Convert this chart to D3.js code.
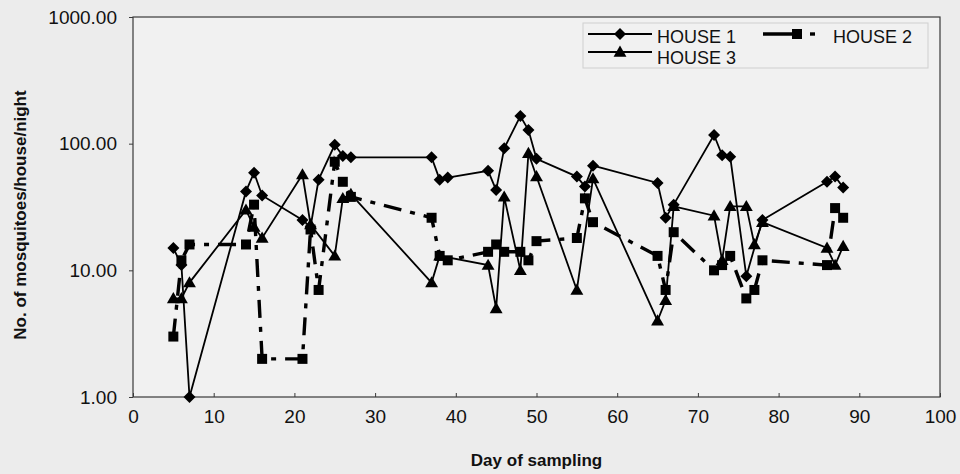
<!DOCTYPE html>
<html><head><meta charset="utf-8">
<script src="https://cdn.jsdelivr.net/npm/d3@7"></script>
<style>
body{margin:0;background:#ececec;}
svg{display:block;font-family:"Liberation Sans",Arial,sans-serif;}
</style>
</head><body><svg id="c" width="960" height="474"></svg>
<script>
// ---- data ----
const days1 = [5,6,7,14,15,16,21,22,23,25,26,27,37,38,39,44,45,46,48,49,50,55,56,57,65,66,67,72,73,74,76,78,86,87,88];
const house1 = [15,11,1,42,59,39,25,22,52,98,80,78,78,52,54,61,43,92,165,128,76,55,46,67,49,26,33,117,81,79,9,25,50,55,45];

const days2 = [5,6,7,14,15,16,21,22,23,25,26,27,37,38,39,44,45,46,48,49,50,55,56,57,65,66,67,72,73,74,76,77,78,86,87,88];
const house2 = [3,12,16,16,33,2,2,21,7,72,50,38,26,13,12,14,16,14,14,12,17,18,37,24,13,7,20,10,11,13,6,7,12,11,31,26];

const days3 = [5,6,7,14,15,16,21,22,25,26,27,37,38,44,45,46,48,49,50,55,57,65,66,67,72,73,74,76,77,78,86,87,88];
const house3 = [6,6,8,30,22,18,57,23,13,37,40,8,13,11,5,38,10,84,55,7,53,4,5.8,32,27,12,32,32,16,24,15,11,15.5];

const xTicks = [0,10,20,30,40,50,60,70,80,90,100];
const yTicks = [1,10,100,1000];
const seriesNames = ["HOUSE 1","HOUSE 2","HOUSE 3"];
const xTitle = "Day of sampling";
const yTitle = "No. of mosquitoes/house/night";

// ---- drawing ----
const svg = d3.select('#c');
const x = d3.scaleLinear().domain([0,100]).range([133,940]);
const y = d3.scaleLog().domain([1,1000]).range([397,17]);

svg.append('rect')
  .attr('x', x(0)).attr('y', y(1000))
  .attr('width', x(100)-x(0)).attr('height', y(1)-y(1000))
  .attr('fill','#f1f1f1').attr('stroke','#3a3a3a').attr('stroke-width',1.2);

const gx = svg.append('g').attr('transform',`translate(0,${y(1)})`)
  .call(d3.axisBottom(x).tickValues(xTicks).tickSize(-4).tickPadding(13).tickFormat(d3.format('d')));
gx.select('.domain').remove();
gx.selectAll('line').attr('stroke','#3a3a3a');
gx.selectAll('text').attr('font-size',19).attr('fill','#111').attr('font-family','"Liberation Sans",Arial,sans-serif');

const gy = svg.append('g').attr('transform',`translate(${x(0)},0)`)
  .call(d3.axisLeft(y).tickValues(yTicks).tickSize(4).tickPadding(12).tickFormat(d3.format('.2f')));
gy.select('.domain').remove();
gy.selectAll('line').attr('stroke','#3a3a3a');
gy.selectAll('text').attr('font-size',19).attr('fill','#111').attr('font-family','"Liberation Sans",Arial,sans-serif');

svg.append('text').attr('x',(x(0)+x(100))/2).attr('y',466)
  .attr('text-anchor','middle').attr('font-weight','bold').attr('font-size',17).attr('fill','#111').text(xTitle);
svg.append('text').attr('transform',`translate(26,${(y(1)+y(1000))/2+8}) rotate(-90)`)
  .attr('text-anchor','middle').attr('font-weight','bold').attr('font-size',17).attr('fill','#111').text(yTitle);

const line = d3.line().x(d=>x(d[0])).y(d=>y(d[1]));
const s1 = days1.map((d,i)=>[d,house1[i]]);
const s2 = days2.map((d,i)=>[d,house2[i]]);
const s3 = days3.map((d,i)=>[d,house3[i]]);

const diamond = d3.symbol().type(d3.symbolSquare).size(72);
const tri = d3.symbol().type(d3.symbolTriangle).size(72);
const sq = d3.symbol().type(d3.symbolSquare).size(100);

// House 2 (thick dash-dot)
svg.append('path').datum(s2).attr('d',line).attr('fill','none')
  .attr('stroke','#000').attr('stroke-width',3.4).attr('stroke-dasharray','18,9,5,9');
// House 1 and 3 (thin solid)
svg.append('path').datum(s1).attr('d',line).attr('fill','none').attr('stroke','#000').attr('stroke-width',1.8);
svg.append('path').datum(s3).attr('d',line).attr('fill','none').attr('stroke','#000').attr('stroke-width',1.8);

svg.append('g').selectAll('path').data(s2).join('path')
  .attr('d',sq).attr('transform',d=>`translate(${x(d[0])},${y(d[1])})`).attr('fill','#000');
svg.append('g').selectAll('path').data(s3).join('path')
  .attr('d',tri).attr('transform',d=>`translate(${x(d[0])},${y(d[1])+1})`).attr('fill','#000');
svg.append('g').selectAll('path').data(s1).join('path')
  .attr('d',diamond).attr('transform',d=>`translate(${x(d[0])},${y(d[1])}) rotate(45)`).attr('fill','#000');

// ---- legend ----
const lg = svg.append('g');
lg.append('rect').attr('x',583).attr('y',23).attr('width',345).attr('height',45)
  .attr('fill','#f1f1f1').attr('stroke','#cfcfcf').attr('stroke-width',1);
lg.append('line').attr('x1',588).attr('x2',652).attr('y1',34).attr('y2',34).attr('stroke','#000').attr('stroke-width',1.8);
lg.append('path').attr('d',diamond).attr('transform','translate(620,34) rotate(45)');
lg.append('text').attr('x',657).attr('y',43).attr('font-size',18).attr('fill','#111').text(seriesNames[0]);
lg.append('line').attr('x1',588).attr('x2',652).attr('y1',52).attr('y2',52).attr('stroke','#000').attr('stroke-width',1.8);
lg.append('path').attr('d',tri).attr('transform','translate(620,53)');
lg.append('text').attr('x',657).attr('y',64).attr('font-size',18).attr('fill','#111').text(seriesNames[2]);
lg.append('line').attr('x1',763).attr('x2',797).attr('y1',34).attr('y2',34).attr('stroke','#000').attr('stroke-width',3.4);
lg.append('line').attr('x1',810).attr('x2',815).attr('y1',34).attr('y2',34).attr('stroke','#000').attr('stroke-width',3.4);
lg.append('path').attr('d',sq).attr('transform','translate(797,34)');
lg.append('text').attr('x',833).attr('y',43).attr('font-size',18).attr('fill','#111').text(seriesNames[1]);
</script>
</body></html>
